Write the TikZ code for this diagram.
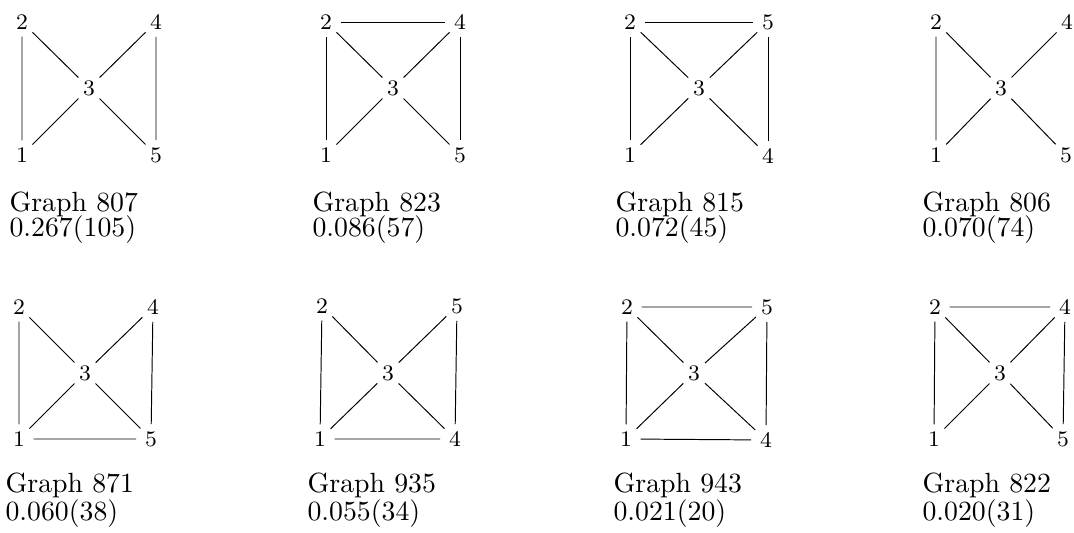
\documentclass[tikz,border=0pt]{standalone}
\usepackage{tikz}
\usetikzlibrary{positioning}

\begin{document}
\begin{tikzpicture}[x=0.36pt, y=-0.36pt,
    vtx/.style={circle, inner sep=1.2pt, font=\footnotesize},
    edge/.style={line width=0.35pt},
    caption/.style={anchor=base west, inner sep=0pt}]
\useasboundingbox (0,0) rectangle (1074,533);

% Graph 807
\begin{scope}[shift={(22,22)}]
  \node[vtx] (a2) at (0,0) {2};   \node[vtx] (a4) at (134,0) {4};
  \node[vtx] (a3) at (67,66) {3};
  \node[vtx] (a1) at (0,133) {1}; \node[vtx] (a5) at (134,133) {5};
  \draw[edge] (a1) -- (a2) -- (a3) -- (a4) -- (a5);
  \draw[edge] (a1) -- (a3) -- (a5);
  \node[caption] (a-lbl) at (-13,190) {Graph 807};
  \node[caption] (a-val) at (-13,215) {0.267(105)};
\end{scope}

% Graph 823
\begin{scope}[shift={(326,22)}]
  \node[vtx] (b2) at (0,0) {2};   \node[vtx] (b4) at (134,0) {4};
  \node[vtx] (b3) at (67,66) {3};
  \node[vtx] (b1) at (0,133) {1}; \node[vtx] (b5) at (134,133) {5};
  \draw[edge] (b1) -- (b2) -- (b4) -- (b5);
  \draw[edge] (b2) -- (b3) -- (b4);
  \draw[edge] (b1) -- (b3) -- (b5);
  \node[caption] (b-lbl) at (-14,190) {Graph 823};
  \node[caption] (b-val) at (-14,215) {0.086(57)};
\end{scope}

% Graph 815
\begin{scope}[shift={(630,22)}]
  \node[vtx] (c2) at (0,0) {2};   \node[vtx] (c5) at (138,0) {5};
  \node[vtx] (c3) at (69,66) {3};
  \node[vtx] (c1) at (0,133) {1}; \node[vtx] (c4) at (138,134) {4};
  \draw[edge] (c1) -- (c2) -- (c5) -- (c4);
  \draw[edge] (c2) -- (c3) -- (c5);
  \draw[edge] (c1) -- (c3) -- (c4);
  \node[caption] (c-lbl) at (-15,190) {Graph 815};
  \node[caption] (c-val) at (-15,215) {0.072(45)};
\end{scope}

% Graph 806
\begin{scope}[shift={(936,22)}]
  \node[vtx] (d2) at (0,0) {2};   \node[vtx] (d4) at (131,0) {4};
  \node[vtx] (d3) at (65,66) {3};
  \node[vtx] (d1) at (0,133) {1}; \node[vtx] (d5) at (130,133) {5};
  \draw[edge] (d1) -- (d2) -- (d3) -- (d4);
  \draw[edge] (d1) -- (d3) -- (d5);
  \node[caption] (d-lbl) at (-14,190) {Graph 806};
  \node[caption] (d-val) at (-14,215) {0.070(74)};
\end{scope}

% Graph 871
\begin{scope}[shift={(19,307)}]
  \node[vtx] (e2) at (0,0) {2};   \node[vtx] (e4) at (134,0) {4};
  \node[vtx] (e3) at (66,66) {3};
  \node[vtx] (e1) at (0,132) {1}; \node[vtx] (e5) at (132,132) {5};
  \draw[edge] (e2) -- (e1) -- (e5) -- (e4) -- (e3) -- (e2);
  \draw[edge] (e1) -- (e3) -- (e5);
  \node[caption] (e-lbl) at (-14,186) {Graph 871};
  \node[caption] (e-val) at (-14,214) {0.060(38)};
\end{scope}

% Graph 935
\begin{scope}[shift={(322,306)}]
  \node[vtx] (f2) at (0,0) {2};   \node[vtx] (f5) at (135,0) {5};
  \node[vtx] (f3) at (66,67) {3};
  \node[vtx] (f1) at (-2,133) {1}; \node[vtx] (f4) at (133,133) {4};
  \draw[edge] (f2) -- (f1) -- (f4) -- (f5) -- (f3) -- (f2);
  \draw[edge] (f1) -- (f3) -- (f4);
  \node[caption] (f-lbl) at (-15,187) {Graph 935};
  \node[caption] (f-val) at (-15,215) {0.055(34)};
\end{scope}

% Graph 943
\begin{scope}[shift={(627,307)}]
  \node[vtx] (g2) at (0,0) {2};   \node[vtx] (g5) at (140,0) {5};
  \node[vtx] (g3) at (67,66) {3};
  \node[vtx] (g1) at (-1,132) {1}; \node[vtx] (g4) at (139,133) {4};
  \draw[edge] (g1) -- (g2) -- (g5) -- (g4) -- (g1);
  \draw[edge] (g2) -- (g3) -- (g4);
  \draw[edge] (g1) -- (g3) -- (g5);
  \node[caption] (g-lbl) at (-14,186) {Graph 943};
  \node[caption] (g-val) at (-14,214) {0.021(20)};
\end{scope}

% Graph 822
\begin{scope}[shift={(935,307)}]
  \node[vtx] (h2) at (0,0) {2};   \node[vtx] (h4) at (130,0) {4};
  \node[vtx] (h3) at (65,66) {3};
  \node[vtx] (h1) at (-1,132) {1}; \node[vtx] (h5) at (128,132) {5};
  \draw[edge] (h1) -- (h2) -- (h4) -- (h5);
  \draw[edge] (h2) -- (h3) -- (h4);
  \draw[edge] (h1) -- (h3) -- (h5);
  \node[caption] (h-lbl) at (-13,186) {Graph 822};
  \node[caption] (h-val) at (-13,214) {0.020(31)};
\end{scope}

\end{tikzpicture}
\end{document}
